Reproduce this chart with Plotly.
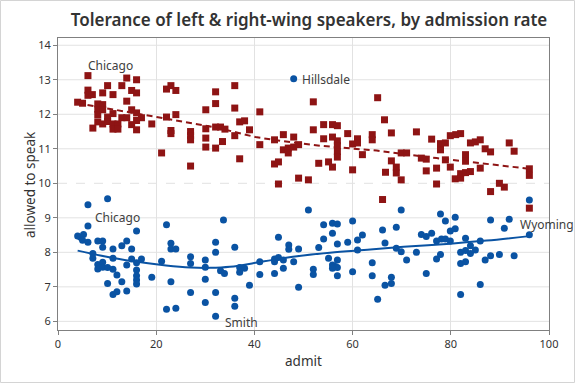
import plotly.graph_objects as go

# ---- data ----
right_admit = [6.1, 14.0, 16.0, 10.1, 13.0, 6.1, 6.1, 7.0, 9.1, 11.2, 15.0, 16.0, 22.1, 23.0, 24.0,
               4.0, 5.0, 8.1, 8.1, 9.1, 9.1, 14.0, 11.2, 15.0, 16.0, 8.1, 10.1, 13.0, 14.0, 17.0,
               22.1, 24.0, 8.1, 9.1, 10.1, 11.2, 11.2, 12.2, 12.2, 15.0, 16.0, 16.0, 7.1, 19.1, 23.0,
               23.0, 27.0, 27.0, 27.0, 30.1, 30.1, 30.1, 32.1, 32.1, 30.1, 32.1, 33.1, 34.0, 33.5, 32.1,
               21.1, 27.0, 36.0, 36.0, 41.1, 37.0, 38.0, 39.0, 36.0, 41.1, 37.0, 44.1, 45.9, 48.0, 45.9,
               46.9, 46.9, 48.0, 49.0, 44.1, 44.9, 44.9, 49.0, 51.0, 52.0, 52.0, 54.1, 54.1, 53.1, 55.1,
               55.9, 55.9, 56.9, 55.9, 56.9, 56.9, 56.9, 56.9, 59.0, 60.0, 61.0, 61.0, 62.0, 60.0, 64.0,
               64.0, 65.1, 66.1, 66.5, 66.7, 67.9, 73.0, 76.1, 77.9, 78.9, 77.9, 79.9, 81.0, 82.0, 84.0,
               85.0, 86.0, 87.0, 88.1, 91.9, 92.9, 69.9, 71.0, 67.9, 68.9, 68.9, 69.9, 74.0, 75.0, 75.0,
               77.1, 77.1, 78.9, 79.9, 83.0, 83.0, 80.9, 82.0, 82.0, 83.0, 84.0, 86.0, 88.1, 89.9, 90.9,
               96.0, 96.0, 96.0]
right_speak = [13.12, 13.05, 13.0, 12.83, 12.83, 12.70, 12.55, 12.57, 12.62, 12.57, 12.69, 12.62, 12.73, 12.83, 12.69,
               12.35, 12.32, 12.30, 12.15, 12.28, 12.13, 12.38, 12.02, 12.13, 12.04, 11.99, 11.92, 11.90, 11.90, 11.90,
               11.92, 11.99, 11.78, 11.72, 11.79, 11.72, 11.57, 11.72, 11.57, 11.70, 11.82, 11.55, 11.60, 11.72, 11.53,
               11.44, 11.50, 11.38, 11.26, 11.58, 11.31, 11.05, 12.65, 12.31, 12.13, 11.63, 11.63, 11.57, 11.21, 11.02,
               10.88, 10.50, 12.83, 12.18, 12.07, 11.78, 11.81, 11.55, 11.38, 11.12, 10.71, 11.26, 11.41, 11.34, 10.97,
               11.02, 10.88, 11.05, 11.12, 10.56, 10.62, 9.98, 10.15, 10.10, 12.36, 11.55, 11.70, 11.29, 10.58, 10.62,
               10.47, 11.70, 11.67, 11.34, 11.23, 11.09, 10.92, 10.76, 11.44, 11.14, 11.29, 11.17, 10.83, 10.39, 11.41,
               11.26, 12.48, 9.53, 11.84, 10.32, 11.46, 11.49, 11.28, 11.15, 11.17, 10.97, 11.38, 11.41, 11.44, 11.17,
               11.20, 11.26, 11.00, 10.91, 11.17, 10.93, 10.88, 10.88, 10.65, 10.47, 10.30, 10.10, 10.73, 10.70, 10.36,
               10.44, 9.98, 10.68, 10.47, 10.83, 10.64, 10.13, 10.15, 10.28, 10.31, 10.34, 10.44, 9.76, 10.00, 9.89,
               10.42, 10.23, 9.28]

left_admit = [4.0, 4.6, 5.2, 5.0, 6.1, 6.1, 6.1, 10.1, 7.1, 7.1, 8.1, 9.1, 9.1, 11.2, 13.0,
              14.0, 15.0, 16.0, 8.1, 8.1, 9.1, 9.1, 10.1, 11.2, 11.2, 12.0, 10.1, 13.0, 14.0, 15.0,
              16.0, 16.0, 16.0, 16.0, 16.0, 17.0, 19.1, 21.1, 11.2, 12.0, 14.0, 22.1, 23.0, 23.0, 24.0,
              23.0, 22.1, 24.0, 27.0, 27.0, 27.0, 30.0, 30.0, 30.0, 30.0, 32.1, 32.1, 32.1, 32.1, 33.1,
              33.9, 33.7, 36.0, 36.0, 36.0, 37.0, 37.0, 38.0, 39.0, 41.1, 41.1, 44.1, 44.1, 44.9, 45.9,
              45.9, 48.0, 44.1, 49.0, 44.9, 47.0, 47.0, 49.0, 51.0, 48.0, 52.0, 52.0, 53.1, 54.1, 54.1,
              55.9, 56.9, 55.9, 56.9, 55.1, 55.9, 56.5, 56.9, 56.9, 55.9, 56.9, 59.0, 60.0, 60.0, 61.0,
              61.0, 62.0, 64.0, 64.0, 65.1, 66.1, 66.6, 66.6, 67.9, 67.9, 68.9, 68.9, 69.9, 69.9, 71.0,
              73.0, 74.0, 75.0, 76.1, 75.0, 77.1, 78.1, 78.9, 79.9, 77.1, 77.9, 77.9, 78.9, 80.9, 79.9,
              80.9, 82.0, 83.0, 84.0, 85.0, 82.0, 83.0, 83.0, 84.0, 86.0, 82.0, 86.0, 87.0, 88.1, 88.1,
              89.9, 90.9, 91.9, 92.9, 96.0, 96.0]
left_speak = [8.47, 8.44, 8.52, 8.35, 8.29, 9.38, 8.76, 9.55, 7.97, 7.83, 8.33, 8.33, 8.15, 8.10, 8.19,
              8.33, 8.10, 8.62, 7.65, 7.52, 7.71, 7.57, 7.56, 7.83, 7.51, 7.34, 7.10, 7.15, 7.63, 7.81,
              7.70, 7.49, 7.32, 7.20, 7.08, 7.81, 7.28, 7.74, 6.78, 6.86, 6.88, 8.80, 8.26, 8.10, 8.10,
              7.15, 6.35, 6.38, 7.87, 7.68, 6.84, 7.78, 7.57, 7.22, 6.55, 8.29, 8.00, 6.84, 6.15, 7.47,
              7.39, 8.94, 8.15, 6.67, 6.44, 7.56, 7.42, 7.54, 7.05, 7.73, 7.36, 7.81, 7.73, 7.85, 7.78,
              7.54, 7.73, 7.39, 6.99, 8.44, 8.21, 8.09, 8.10, 9.23, 13.03, 7.51, 7.36, 8.14, 8.80, 8.39,
              8.84, 8.82, 8.55, 8.24, 7.83, 7.63, 7.59, 7.78, 7.56, 7.54, 7.32, 8.29, 8.91, 7.44, 8.36,
              8.07, 8.50, 7.70, 7.32, 6.64, 8.65, 8.27, 7.05, 7.10, 7.28, 8.73, 8.12, 8.02, 9.23, 7.78,
              8.00, 8.52, 8.46, 8.55, 7.39, 8.33, 8.39, 8.39, 8.33, 7.81, 7.94, 9.11, 8.91, 9.02, 8.62,
              8.68, 8.00, 8.05, 7.97, 8.07, 7.68, 7.73, 8.41, 8.19, 8.33, 6.78, 7.07, 7.78, 7.90, 8.94,
              7.94, 8.70, 8.96, 7.90, 9.52, 8.51]

# smoothed fit lines
right_fit_x = [4.0, 5.6, 10.7, 14.1, 17.5, 20.9, 24.9, 28.3, 31.7, 36.8, 40.2, 45.3, 48.7, 53.4, 58.8, 64.9, 77.1, 94.8, 96.0]
right_fit_y = [12.32, 12.28, 12.15, 12.08, 11.99, 11.89, 11.80, 11.72, 11.63, 11.46, 11.34, 11.23, 11.17, 11.09, 11.02, 10.95, 10.73, 10.44, 10.42]
left_fit_x = [4.0, 8.6, 15.4, 22.0, 27.0, 31.0, 35.0, 42.0, 48.7, 55.4, 63.6, 70.4, 79.9, 87.3, 96.0]
left_fit_y = [8.05, 7.91, 7.74, 7.62, 7.56, 7.55, 7.58, 7.74, 7.89, 7.99, 8.08, 8.16, 8.25, 8.34, 8.47]

labels = [("Chicago", 5.6, 13.42), ("Hillsdale", 49.2, 13.0), ("Chicago", 7.2, 9.02),
          ("Smith", 33.6, 5.96), ("Wyoming", 93.6, 8.82)]

x_ticks = [0, 20, 40, 60, 80, 100]
y_ticks = [6, 7, 8, 9, 10, 11, 12, 13, 14]
dashed_grid = 10

RED = "#8E1414"
BLUE = "#0A53A3"
FONT = "Noto Sans"

fig = go.Figure()
fig.add_trace(go.Scatter(x=right_fit_x, y=right_fit_y, mode="lines",
                         line=dict(color=RED, width=2, dash="6px,4px"), hoverinfo="skip"))
fig.add_trace(go.Scatter(x=left_fit_x, y=left_fit_y, mode="lines", line_shape="spline",
                         line=dict(color=BLUE, width=2), hoverinfo="skip"))
fig.add_trace(go.Scatter(x=right_admit, y=right_speak, mode="markers",
                         marker=dict(symbol="square", size=7, color=RED)))
fig.add_trace(go.Scatter(x=left_admit, y=left_speak, mode="markers",
                         marker=dict(symbol="circle", size=7, color=BLUE)))

for txt, lx, ly in labels:
    fig.add_annotation(x=lx, y=ly, text=txt, showarrow=False, xanchor="left", yanchor="middle",
                       font=dict(family=FONT, size=12, color="#404040"))

for v in y_ticks:
    fig.add_shape(type="line", xref="paper", x0=0, x1=1, yref="y", y0=v, y1=v, layer="below",
                  line=dict(color="#E2E2E2", width=1, dash="dash" if v == dashed_grid else "solid"))

L, R, T, B = 58, 27, 38, 54
W, H = 576, 384
pw, ph = W - L - R, H - T - B
fig.add_shape(type="rect", xref="paper", yref="paper",
              x0=-(L - 0.5) / pw, x1=1 + (R - 1.5) / pw, y0=-(B - 1.5) / ph, y1=1 + (T - 0.5) / ph,
              line=dict(color="#D4D4D4", width=1), layer="below")

# axis titles placed as annotations (pixel positions from the reference)
fig.add_annotation(text="admit", xref="paper", yref="paper", x=(303 - L) / pw, y=-(361 - (H - B)) / ph,
                   showarrow=False, xanchor="center", yanchor="middle",
                   font=dict(family=FONT, size=13.5, color="#333333"))
fig.add_annotation(text="allowed to speak", xref="paper", yref="paper", x=-(L - 30) / pw, y=1 - (185 - T) / ph,
                   showarrow=False, xanchor="center", yanchor="middle", textangle=-90,
                   font=dict(family=FONT, size=13.5, color="#333333"))

fig.update_layout(
    width=W, height=H, margin=dict(l=L, r=R, t=T, b=B, autoexpand=False),
    paper_bgcolor="white", plot_bgcolor="white", showlegend=False,
    font=dict(family=FONT, color="#333333"),
    title=dict(text="Tolerance of left & right-wing speakers, by admission rate",
               x=(309 - L) / pw, xref="paper", xanchor="center", y=1 - 20 / H, yanchor="middle",
               font=dict(family=FONT, size=17, color="#333333", weight=600)),
)
fig.update_xaxes(range=[0, 100], tickvals=x_ticks, showgrid=True, gridcolor="#E2E2E2", gridwidth=1,
                 zeroline=False, showline=True, linecolor="#808080", linewidth=1, mirror=True,
                 ticks="outside", ticklen=4, tickcolor="#808080", automargin=False,
                 tickfont=dict(family=FONT, size=11, color="#333333"))
fig.update_yaxes(range=[5.75, 14.21], tickvals=y_ticks, showgrid=False,
                 zeroline=False, showline=True, linecolor="#808080", linewidth=1, mirror=True,
                 ticks="outside", ticklen=4, tickcolor="#808080", automargin=False,
                 tickfont=dict(family=FONT, size=11, color="#333333"))

fig.write_html("out.html", config={"displayModeBar": False},
               post_script="document.body.style.margin='0';document.body.style.padding='0';")
